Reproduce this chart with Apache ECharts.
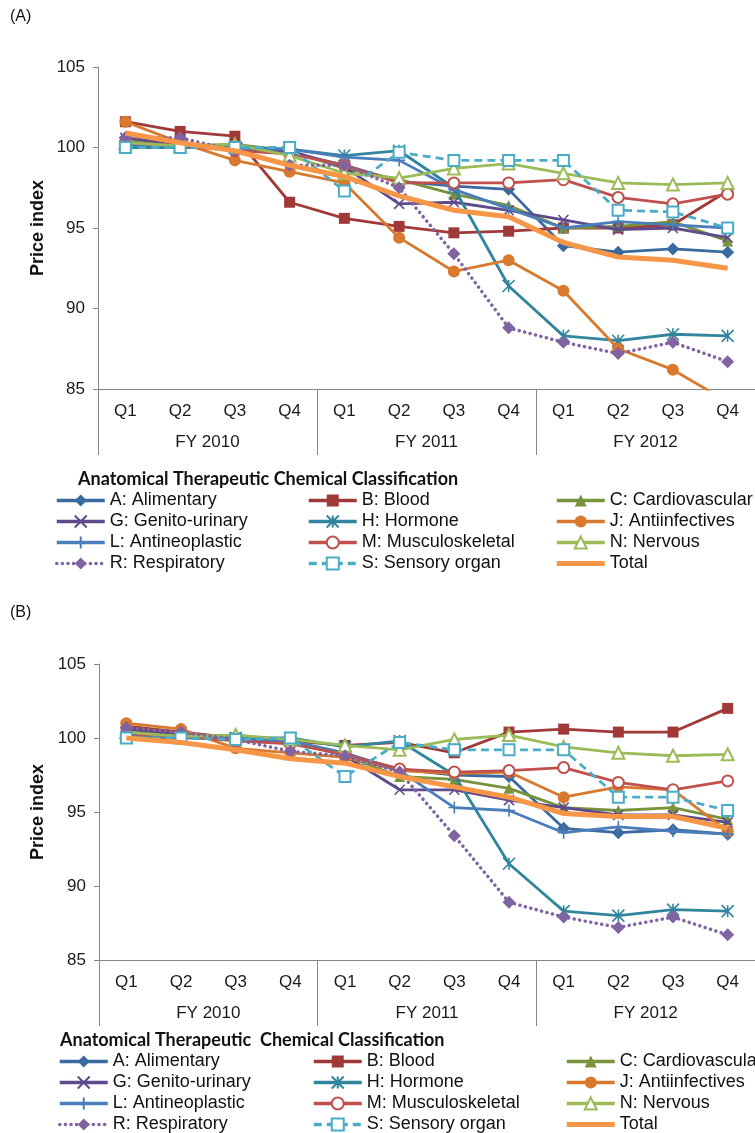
<!DOCTYPE html>
<html><head><meta charset="utf-8">
<script src="https://cdn.jsdelivr.net/npm/echarts@6/dist/echarts.min.js"></script>
<style>html,body{margin:0;padding:0;background:#fff}#c{width:755px;height:1133px}</style>
</head><body><div id="c"></div>
<script>
// ---- categories / ticks ----
const quarters = ['Q1','Q2','Q3','Q4','Q1','Q2','Q3','Q4','Q1','Q2','Q3','Q4'];
const fiscalYears = ['FY 2010','FY 2011','FY 2012'];
const yMin = 85, yMax = 105, yStep = 5;
const seriesNames = ['A: Alimentary','B: Blood','C: Cardiovascular','G: Genito-urinary','H: Hormone','J: Antiinfectives','L: Antineoplastic','M: Musculoskeletal','N: Nervous','R: Respiratory','S: Sensory organ','Total'];

// ---- panel (A) values ----
const a_A = [100.6, 100.1, 100.0, 99.7, 98.9, 97.9, 97.6, 97.4, 93.9, 93.5, 93.7, 93.5];
const a_B = [101.6, 101.0, 100.7, 96.6, 95.6, 95.1, 94.7, 94.8, 95.0, 95.0, 95.2, 97.3];
const a_C = [100.4, 100.1, 100.2, 99.8, 98.7, 98.0, 97.1, 96.4, 95.0, 95.1, 95.4, 94.2];
const a_G = [100.6, 100.2, 99.9, 99.8, 98.8, 96.5, 96.6, 96.1, 95.5, 94.9, 95.0, 94.4];
const a_H = [100.0, 100.0, 100.0, 99.9, 99.5, 99.8, 97.5, 91.4, 88.3, 88.0, 88.4, 88.3];
const a_J = [101.6, 100.3, 99.2, 98.5, 97.8, 94.4, 92.3, 93.0, 91.1, 87.5, 86.2, 84.2];
const a_L = [100.2, 100.1, 99.9, 99.9, 99.4, 99.2, 97.4, 96.2, 95.0, 95.4, 95.2, 95.0];
const a_M = [100.3, 100.1, 99.8, 99.6, 98.9, 97.8, 97.8, 97.8, 98.0, 96.9, 96.5, 97.1];
const a_N = [100.3, 100.1, 100.2, 99.5, 98.4, 98.1, 98.7, 99.0, 98.4, 97.8, 97.7, 97.8];
const a_R = [100.6, 100.6, 99.8, 98.9, 98.9, 97.5, 93.4, 88.8, 87.9, 87.2, 87.9, 86.7];
const a_S = [100.0, 100.0, 100.0, 100.0, 97.3, 99.7, 99.2, 99.2, 99.2, 96.1, 96.0, 95.0];
const a_T = [100.9, 100.3, 99.8, 98.9, 98.2, 97.0, 96.1, 95.7, 94.1, 93.2, 93.0, 92.5];

// ---- panel (B) values ----
const b_A = [100.7, 100.2, 100.0, 99.7, 98.9, 97.9, 97.5, 97.4, 93.9, 93.6, 93.8, 93.5];
const b_B = [100.8, 100.4, 100.0, 99.8, 99.5, 99.7, 99.0, 100.4, 100.6, 100.4, 100.4, 102.0];
const b_C = [100.4, 100.1, 100.2, 99.8, 98.8, 97.4, 97.2, 96.6, 95.3, 95.1, 95.3, 94.5];
const b_G = [100.6, 100.2, 99.9, 99.8, 98.8, 96.5, 96.5, 95.8, 95.3, 94.8, 94.8, 94.3];
const b_H = [100.0, 100.0, 100.0, 100.0, 99.4, 99.8, 97.5, 91.5, 88.3, 88.0, 88.4, 88.3];
const b_J = [101.0, 100.6, 99.3, 99.0, 98.7, 97.8, 97.6, 97.7, 96.0, 96.7, 96.5, 93.7];
const b_L = [100.2, 100.1, 99.9, 99.8, 99.0, 97.8, 95.3, 95.1, 93.6, 94.0, 93.7, 93.5];
const b_M = [100.3, 100.1, 99.8, 99.6, 98.9, 97.9, 97.7, 97.8, 98.0, 97.0, 96.5, 97.1];
const b_N = [100.4, 100.1, 100.2, 99.9, 99.5, 99.2, 99.9, 100.2, 99.4, 99.0, 98.8, 98.9];
const b_R = [100.7, 100.4, 99.9, 99.1, 98.8, 97.7, 93.4, 88.9, 87.9, 87.2, 87.9, 86.7];
const b_S = [100.0, 100.0, 99.9, 100.0, 97.4, 99.7, 99.2, 99.2, 99.2, 96.0, 96.0, 95.1];
const b_T = [100.0, 99.7, 99.2, 98.6, 98.3, 97.4, 96.7, 96.0, 94.9, 94.7, 94.7, 93.9];

const panelAValues = [a_A, a_B, a_C, a_G, a_H, a_J, a_L, a_M, a_N, a_R, a_S, a_T];
const panelBValues = [b_A, b_B, b_C, b_G, b_H, b_J, b_L, b_M, b_N, b_R, b_S, b_T];

// ---- styles ----
const FONT = 'Liberation Sans';
const AXIS_GRAY = '#868686';
const P_X = 'path://M0,0L10,10M10,0L0,10';
const P_AST = 'path://M0,0L10,10M10,0L0,10M5,0L5,10';
const P_PLUS = 'path://M5,0L5,10M0,5L10,5';
const styles = [
  {color:'#3B6AA0', symbol:'diamond', size:13},
  {color:'#A03A38', symbol:'rect', size:11},
  {color:'#77933C', symbol:'triangle', size:11},
  {color:'#5F4A8B', symbol:P_X, size:10, stroke:true},
  {color:'#31859C', symbol:P_AST, size:12, stroke:true},
  {color:'#D8792E', symbol:'circle', size:12},
  {color:'#4A7EBB', symbol:P_PLUS, size:12, stroke:true},
  {color:'#C0504D', symbol:'emptyCircle', size:11},
  {color:'#9BBB59', symbol:'emptyTriangle', size:12},
  {color:'#8064A2', symbol:'diamond', size:13, dash:[0.1,5.5], cap:'round', width:3.5},
  {color:'#4BACC6', symbol:'emptyRect', size:11, dash:[8,5]},
  {color:'#F79646', symbol:'none', size:0, width:5}
];

function makeSeries(values, xi, yi) {
  return values.map((vals, i) => {
    const s = styles[i];
    return {
      name: seriesNames[i], type: 'line', data: vals,
      xAxisIndex: xi, yAxisIndex: yi,
      symbol: s.symbol, symbolSize: s.size, showAllSymbol: true,
      lineStyle: {color: s.color, width: s.width || 2.8, type: s.dash || 'solid', cap: s.cap || 'butt'},
      itemStyle: s.stroke ? {color: s.color, borderColor: s.color, borderWidth: 1.6}
                          : {color: s.color, borderColor: s.color, borderWidth: (s.symbol.indexOf('empty') === 0 ? 1.4 : 0)},
      clip: true, z: 2 + i, animation: false, emphasis: {disabled: true}
    };
  });
}

function yAxis(gi) {
  return {
    type: 'value', gridIndex: gi, min: yMin, max: yMax, interval: yStep,
    axisLine: {show: true, lineStyle: {color: AXIS_GRAY, width: 1}},
    axisTick: {show: true, length: 5, lineStyle: {color: AXIS_GRAY}},
    splitLine: {show: false},
    axisLabel: {fontFamily: FONT, fontSize: 17, color: '#1a1a1a', margin: 13}
  };
}
function xAxes(gi) {
  return [
    {type: 'category', gridIndex: gi, data: quarters, position: 'bottom', boundaryGap: true,
     axisLine: {show: true, onZero: false, lineStyle: {color: AXIS_GRAY, width: 1}},
     axisTick: {show: false}, splitLine: {show: false},
     axisLabel: {fontFamily: FONT, fontSize: 17, color: '#1a1a1a', margin: 14, interval: 0}},
    {type: 'category', gridIndex: gi, data: fiscalYears, position: 'bottom', boundaryGap: true,
     axisLine: {show: false, onZero: false},
     axisTick: {show: true, length: 66, alignWithLabel: false, interval: 0, lineStyle: {color: AXIS_GRAY, width: 1}},
     splitLine: {show: false},
     axisLabel: {fontFamily: FONT, fontSize: 17, color: '#1a1a1a', margin: 45, interval: 0}}
  ];
}

const legendCols = [
  [seriesNames[0], seriesNames[3], seriesNames[6], seriesNames[9]],
  [seriesNames[1], seriesNames[4], seriesNames[7], seriesNames[10]],
  [seriesNames[2], seriesNames[5], seriesNames[8], seriesNames[11]]
];
const TOTAL_ICON = 'path://M0,0L48,0L48,5L0,5Z';
function legends(lefts, top) {
  return legendCols.map((names, i) => ({
    orient: 'vertical', left: lefts[i], top: top, width: 240, height: 100, padding: 0, itemGap: 0,
    itemWidth: 48, itemHeight: 15, selectedMode: false,
    data: names.map(n => n === 'Total' ? {name: n, icon: TOTAL_ICON, itemStyle: {color: '#F79646'}} : n),
    lineStyle: {width: 3.5},
    textStyle: {fontFamily: FONT, fontSize: 18, lineHeight: 21, color: '#111'}
  }));
}

const chart = echarts.init(document.getElementById('c'), null, {renderer: 'canvas'});
chart.setOption({
  animation: false,
  backgroundColor: '#fff',
  grid: [
    {left: 98, top: 67, width: 657, height: 322, containLabel: false},
    {left: 99, top: 664, width: 667, height: 296, containLabel: false}
  ],
  xAxis: [...xAxes(0), ...xAxes(1)],
  yAxis: [yAxis(0), yAxis(1)],
  legend: [...legends([55, 307, 555], 490), ...legends([58, 312, 565], 1051)],
  series: [...makeSeries(panelAValues, 0, 0), ...makeSeries(panelBValues, 2, 1)],
  graphic: [
    {type: 'text', left: 10, top: 9, style: {text: '(A)', fontFamily: FONT, fontSize: 16, fill: '#111'}},
    {type: 'text', left: 10, top: 605, style: {text: '(B)', fontFamily: FONT, fontSize: 16, fill: '#111'}},
    {type: 'text', x: 38, y: 228, rotation: Math.PI / 2,
     style: {text: 'Price index', fontFamily: FONT, fontWeight: 'bold', fontSize: 18, fill: '#111', align: 'center', verticalAlign: 'middle'}},
    {type: 'text', x: 38, y: 812, rotation: Math.PI / 2,
     style: {text: 'Price index', fontFamily: FONT, fontWeight: 'bold', fontSize: 18, fill: '#111', align: 'center', verticalAlign: 'middle'}},
    {type: 'text', x: 78, y: 479,
     style: {text: 'Anatomical Therapeutic Chemical Classification', fontFamily: 'Lato', fontWeight: 'bold', fontSize: 18, fill: '#111', align: 'left', verticalAlign: 'middle'}},
    {type: 'text', x: 60, y: 1040,
     style: {text: 'Anatomical Therapeutic  Chemical Classification', fontFamily: 'Lato', fontWeight: 'bold', fontSize: 18, fill: '#111', align: 'left', verticalAlign: 'middle'}}
  ]
});
</script></body></html>
